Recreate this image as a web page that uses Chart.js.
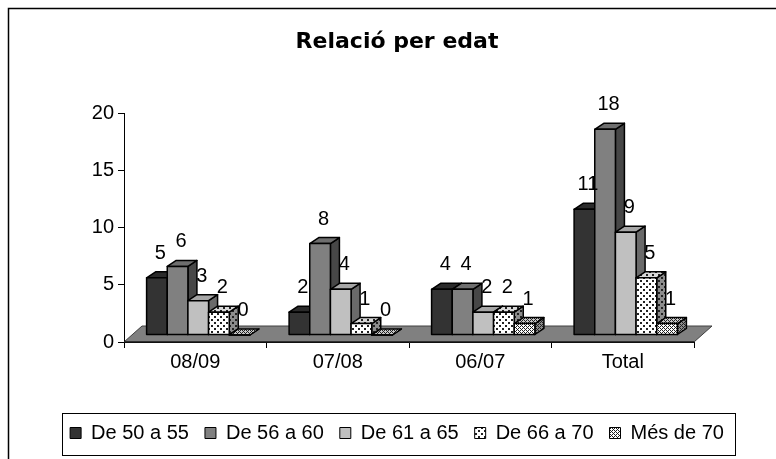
<!DOCTYPE html>
<html>
<head>
<meta charset="utf-8">
<script src="https://cdn.jsdelivr.net/npm/chart.js@4.4.0/dist/chart.umd.min.js"></script>
<style>
  body { margin: 0; background: #fff; }
</style>
</head>
<body>
<canvas id="myChart" width="776" height="459"></canvas>
<script>
'use strict'

// *********DATA***********

const categories = ['08/09', '07/08', '06/07', 'Total'];
const seriesNames = ['De 50 a 55', 'De 56 a 60', 'De 61 a 65', 'De 66 a 70', 'Més de 70'];
const de50a55 = [5, 2, 4, 11];
const de56a60 = [6, 8, 4, 18];
const de61a65 = [3, 4, 2, 9];
const de66a70 = [2, 1, 2, 5];
const mesDe70 = [0, 0, 1, 1];
const yTicks = [0, 5, 10, 15, 20];

// *********LOOK***********

const fontFamily = "'Liberation Sans', Arial, sans-serif";

// little 3d trick: every bar gets a top and a side face
const barShift = { x: 3, y: -7 };   // bars stand a bit back on the floor
const barDepth = { x: 9, y: -6 };
const floorDepth = { x: 18, y: -16 };

// dotted fills like the old excel ones
function makePattern(bg, dots, size, dotColor) {
  let c = document.createElement('canvas');
  c.width = size;
  c.height = size;
  let g = c.getContext('2d');
  g.fillStyle = bg;
  g.fillRect(0, 0, size, size);
  g.fillStyle = dotColor || '#222';
  dots.forEach(function (d) {
    g.fillRect(d[0], d[1], d[2] || 1, d[2] || 1);
  });
  return c.getContext('2d').createPattern(c, 'repeat');
}

const sparseDots = [[1, 1, 2], [4, 4, 2]];
const denseDots = [[0, 0, 1], [2, 0, 1], [0, 2, 1], [2, 2, 1], [1, 1, 1], [3, 3, 1]];

// front, top and side colour for each series
const faces = [
  { front: '#333333', top: '#2b2b2b', side: '#1e1e1e' },
  { front: '#808080', top: '#6e6e6e', side: '#474747' },
  { front: '#c0c0c0', top: '#a6a6a6', side: '#6a6a6a' },
  { front: makePattern('#ffffff', sparseDots, 6), top: makePattern('#d8d8d8', sparseDots, 6), side: makePattern('#8c8c8c', sparseDots, 6) },
  { front: makePattern('#ffffff', denseDots, 4), top: makePattern('#c8c8c8', denseDots, 4), side: makePattern('#8c8c8c', denseDots, 4) }
];

const seriesValues = [de50a55, de56a60, de61a65, de66a70, mesDe70];

let datasets = [];
for (let i = 0; i < seriesNames.length; i++) {
  datasets.push({
    label: seriesNames[i],
    data: seriesValues[i],
    backgroundColor: faces[i].front,
    borderColor: '#000000',
    borderWidth: 1,
    categoryPercentage: 0.725,
    barPercentage: 1.0
  });
}

// ********PLUGIN*********

function fillShape(ctx, pts, fill) {
  ctx.beginPath();
  ctx.moveTo(pts[0][0], pts[0][1]);
  for (let k = 1; k < pts.length; k++) {
    ctx.lineTo(pts[k][0], pts[k][1]);
  }
  ctx.closePath();
  ctx.fillStyle = fill;
  ctx.fill();
  ctx.stroke();
}

const excel3d = {
  id: 'excel3d',
  beforeDraw(chart) {
    let ctx = chart.ctx;
    ctx.save();
    ctx.fillStyle = '#ffffff';
    ctx.fillRect(0, 0, chart.width, chart.height);
    // outer frame, right and bottom edges fall off the picture
    ctx.strokeStyle = '#000000';
    ctx.lineWidth = 1.5;
    ctx.strokeRect(8.5, 8.5, chart.width + 20, chart.height + 20);
    ctx.restore();
  },
  beforeDatasetsDraw(chart) {
    let ctx = chart.ctx;
    let xs = chart.scales.x;
    let ys = chart.scales.y;
    let y0 = ys.getPixelForValue(0);

    ctx.save();
    // floor
    ctx.lineWidth = 1;
    ctx.strokeStyle = '#404040';
    fillShape(ctx, [
      [xs.left, y0], [xs.right, y0],
      [xs.right + floorDepth.x, y0 + floorDepth.y],
      [xs.left + floorDepth.x, y0 + floorDepth.y]
    ], '#808080');
    ctx.strokeStyle = '#000000';
    ctx.beginPath();
    ctx.moveTo(xs.left, y0);
    ctx.lineTo(xs.right, y0);
    ctx.stroke();

    // bars, left to right so each front hides the previous side
    ctx.lineWidth = 1.5;
    ctx.lineJoin = 'round';
    ctx.strokeStyle = '#000000';
    for (let j = 0; j < categories.length; j++) {
      for (let i = 0; i < chart.data.datasets.length; i++) {
        let bar = chart.getDatasetMeta(i).data[j];
        let L = bar.x - bar.width / 2 + barShift.x;
        let R = bar.x + bar.width / 2 + barShift.x;
        let T = bar.y + barShift.y;
        let B = bar.base + barShift.y;
        let dx = barDepth.x, dy = barDepth.y;
        fillShape(ctx, [[R, T], [R + dx, T + dy], [R + dx, B + dy], [R, B]], faces[i].side);
        fillShape(ctx, [[L, T], [L + dx, T + dy], [R + dx, T + dy], [R, T]], faces[i].top);
        fillShape(ctx, [[L, T], [R, T], [R, B], [L, B]], faces[i].front);
      }
    }

    // value labels on top of the bars
    ctx.fillStyle = '#000000';
    ctx.font = '20px ' + fontFamily;
    ctx.textAlign = 'center';
    ctx.textBaseline = 'alphabetic';
    for (let i = 0; i < chart.data.datasets.length; i++) {
      let meta = chart.getDatasetMeta(i);
      meta.data.forEach(function (bar, j) {
        let cx = bar.x + barShift.x + 3.5;
        let ty = bar.y + barShift.y + barDepth.y - 13;
        ctx.fillText(String(chart.data.datasets[i].data[j]), cx, ty);
      });
    }
    ctx.restore();
    return false;
  },
  afterDraw(chart) {
    // box round the legend
    let lg = chart.legend;
    let hb = lg.legendHitBoxes;
    if (!hb || !hb.length) return;
    let last = hb[hb.length - 1];
    let ctx = chart.ctx;
    ctx.save();
    ctx.strokeStyle = '#000000';
    ctx.lineWidth = 1;
    ctx.strokeRect(Math.round(hb[0].left - 8) + 0.5, Math.round(lg.top + 6) + 0.5,
      Math.round(last.left + last.width + 11 - hb[0].left + 8), 42);
    ctx.restore();
  }
};

// ********CHART*********

let ctx = document.getElementById('myChart');

new Chart(ctx, {
  type: 'bar',
  data: {
    labels: categories,
    datasets: datasets
  },
  options: {
    responsive: false,
    animation: false,
    devicePixelRatio: 1,
    layout: {
      padding: { left: 18, right: 0, top: 0, bottom: 6 }
    },
    plugins: {
      title: {
        display: true,
        text: 'Relació per edat',
        color: '#000000',
        font: { family: "'DejaVu Sans', " + fontFamily, size: 22, weight: 'bold', lineHeight: 1.2 },
        padding: { top: 29, bottom: 58 }
      },
      legend: {
        position: 'bottom',
        labels: {
          color: '#000000',
          font: { family: fontFamily, size: 20 },
          boxWidth: 11,
          boxHeight: 11,
          padding: 16
        }
      },
      tooltip: { enabled: false }
    },
    scales: {
      x: {
        grid: {
          display: true,
          drawOnChartArea: false,
          tickLength: 6,
          color: '#000000',
          offset: true
        },
        border: { display: true, color: '#000000', width: 1 },
        ticks: {
          color: '#000000',
          font: { family: fontFamily, size: 20 },
          padding: 2
        },
        afterFit(scale) {
          scale.height = 65;
        }
      },
      y: {
        min: 0,
        max: 20,
        grid: {
          display: true,
          drawOnChartArea: false,
          tickLength: 6,
          color: '#000000'
        },
        border: { display: true, color: '#000000', width: 1 },
        ticks: {
          color: '#000000',
          font: { family: fontFamily, size: 20 },
          padding: 4
        },
        afterBuildTicks(scale) {
          scale.ticks = yTicks.map(function (v) { return { value: v }; });
        },
        afterFit(scale) {
          scale.width = 106;
        }
      },
      // empty room on the right, keeps the plot narrow while the legend gets the full width
      spacer: {
        type: 'linear',
        position: 'right',
        grid: { display: false },
        border: { display: false },
        ticks: { display: false },
        afterFit(scale) {
          scale.width = 82;
        }
      }
    }
  },
  plugins: [excel3d]
});
</script>
</body>
</html>
